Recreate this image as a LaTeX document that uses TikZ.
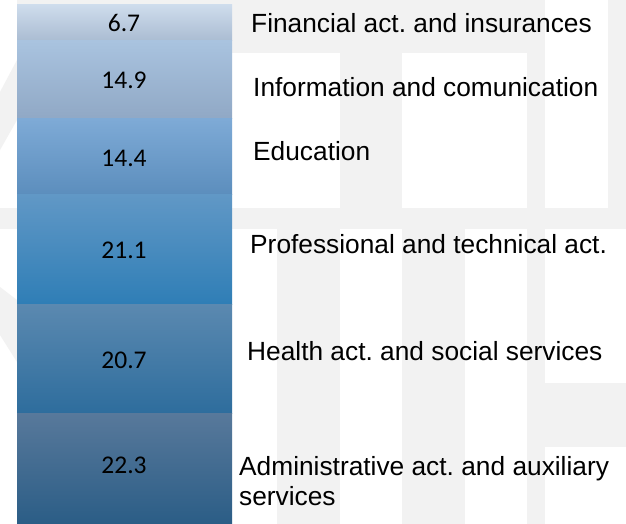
\documentclass[tikz,border=0pt]{standalone}
\usepackage{fontspec}
\setmainfont{Liberation Sans}
\newfontfamily\numfont{Carlito}
\frenchspacing
\definecolor{wmgray}{HTML}{F2F2F2}
\definecolor{sAtop}{HTML}{CEDCEC}
\definecolor{sAbot}{HTML}{AABCD2}
\definecolor{sBtop}{HTML}{A9C3DF}
\definecolor{sBbot}{HTML}{90A8C5}
\definecolor{sCtop}{HTML}{7EAAD6}
\definecolor{sCbot}{HTML}{5C8EBD}
\definecolor{sDtop}{HTML}{6198C6}
\definecolor{sDbot}{HTML}{2F7EB6}
\definecolor{sEtop}{HTML}{5B89B0}
\definecolor{sEbot}{HTML}{2E6D9D}
\definecolor{sFtop}{HTML}{58799B}
\definecolor{sFbot}{HTML}{2B5D86}

\begin{document}
\begin{tikzpicture}[x=1pt,y=-1pt,
    value/.style={anchor=base,inner sep=0pt,font=\numfont\fontsize{25.5}{30}\selectfont},
    sector/.style={anchor=base west,inner sep=0pt,align=left,font=\fontsize{26.3}{30}\selectfont}]
      \useasboundingbox (0,0) rectangle (626,524);
      \fill [white] (0,0) rectangle (626,524);
      \fill [wmgray] (17,0) rectangle (545,53);
      \fill [wmgray] (608,0) rectangle (626,208);
      \fill [wmgray] (340,53) rectangle (402,208);
      \fill [wmgray] (527,0) rectangle (545,524);
      \fill [wmgray] (0,208) rectangle (626,229);
      \fill [wmgray] (277,229) rectangle (340,524);
      \fill [wmgray] (402,229) rectangle (465,524);
      \fill [wmgray] (545,383) rectangle (626,447);
      \fill [wmgray] (0,92) -- (17,60) -- (17,120) -- (0,150) -- cycle;
      \fill [wmgray] (0,287) -- (17,300) -- (17,362) -- (0,335) -- cycle;
      \shade [top color=sAtop, bottom color=sAbot] (17,5) rectangle (232,41);
      \shade [top color=sBtop, bottom color=sBbot] (17,41) rectangle (232,119);
      \shade [top color=sCtop, bottom color=sCbot] (17,119) rectangle (232,194);
      \shade [top color=sDtop, bottom color=sDbot] (17,194) rectangle (232,304);
      \shade [top color=sEtop, bottom color=sEbot] (17,304) rectangle (232,413);
      \shade [top color=sFtop, bottom color=sFbot] (17,413) rectangle (232,524);
      \node [value] (vfin) at (124,32) {6.7};
      \node [value] (vinf) at (124,89) {14.9};
      \node [value] (vedu) at (124,166) {14.4};
      \node [value] (vpro) at (124,258) {21.1};
      \node [value] (vhea) at (124,368) {20.7};
      \node [value] (vadm) at (124,473) {22.3};
      \node [sector] (lfin) at (251,33) {Financial act. and insurances};
      \node [sector] (linf) at (253,97) {Information and comunication};
      \node [sector] (ledu) at (253,160) {Education};
      \node [sector] (lpro) at (250,253) {Professional and technical act.};
      \node [sector] (lhea) at (247,360) {Health act. and social services};
      \node [sector] (ladm) at (239,475) {Administrative act. and auxiliary};
      \node [sector] (ladmb) at (239,505) {services};
    \end{tikzpicture}
\end{document}
